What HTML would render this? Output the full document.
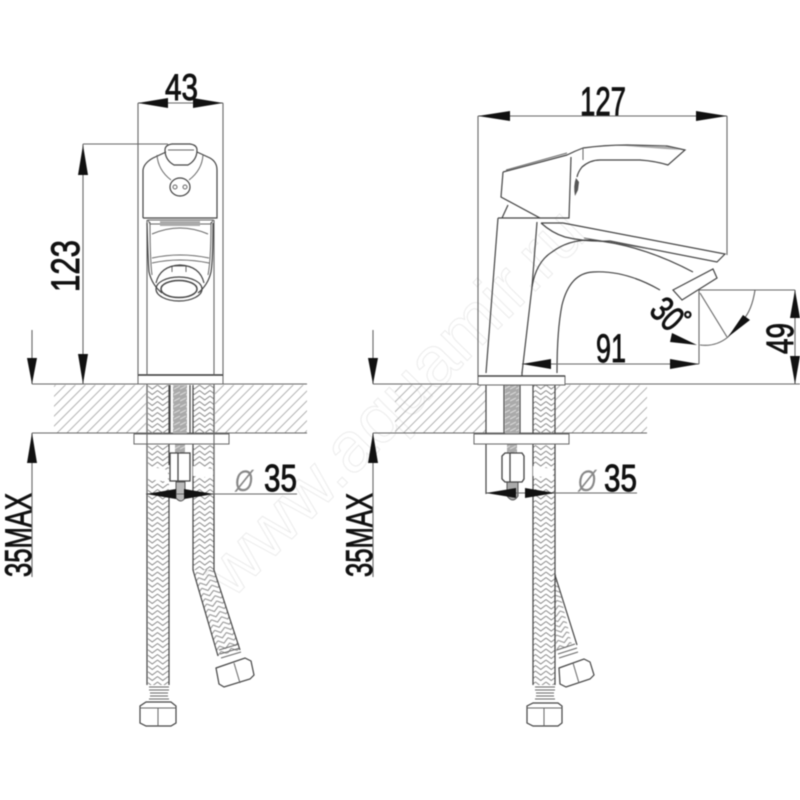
<!DOCTYPE html>
<html><head><meta charset="utf-8"><style>
html,body{margin:0;padding:0;background:#fff}
svg{display:block;filter:blur(.55px)}
text{font-family:"Liberation Sans",sans-serif;fill:#111;stroke:#111;stroke-width:.9}
.l{fill:none;stroke:#444;stroke-width:1.2}
.t{fill:none;stroke:#666;stroke-width:1}
.d{fill:none;stroke:#666;stroke-width:1.1}
.a{fill:#111;stroke:none}
</style></head><body>
<svg width="800" height="800" viewBox="0 0 800 800" xmlns="http://www.w3.org/2000/svg">
<defs>
<pattern id="h" width="7" height="45" patternUnits="userSpaceOnUse" patternTransform="rotate(45)"><path d="M3.5 0V45" stroke="#aaa" stroke-width=".9"/></pattern>
<pattern id="b" x="0" y="0" width="10.5" height="5.5" patternUnits="userSpaceOnUse"><path d="M0 0L5.25 4L10.5 0M0 5.5L5.25 9.5L10.5 5.5M0 -5.5L5.25 -1.5L10.5 -5.5" fill="none" stroke="#888" stroke-width=".9"/></pattern>
<pattern id="br" x="0" y="0" width="10.5" height="5.5" patternUnits="userSpaceOnUse" patternTransform="rotate(-17)"><path d="M0 0L5.25 4L10.5 0M0 5.5L5.25 9.5L10.5 5.5M0 -5.5L5.25 -1.5L10.5 -5.5" fill="none" stroke="#888" stroke-width=".9"/></pattern>
<pattern id="s" width="6" height="6" patternUnits="userSpaceOnUse"><rect width="6" height="6" fill="#aaa"/><path d="M0 5L6 2" stroke="#ddd" stroke-width="1"/></pattern>
</defs>
<rect width="800" height="800" fill="#fff"/>

<!-- watermark -->
<text x="0" y="0" transform="translate(232 600) rotate(-45.5)" font-size="70" textLength="510" lengthAdjust="spacingAndGlyphs" style="fill:#fff;stroke:#ececec;stroke-width:1">www.aquamir.ru</text>

<!-- table hatch -->
<rect x="54" y="385" width="92" height="48" fill="url(#h)"/>
<rect x="215" y="385" width="92" height="48" fill="url(#h)"/>
<rect x="395" y="385" width="91" height="48" fill="url(#h)"/>
<rect x="555" y="385" width="92" height="48" fill="url(#h)"/>
<path class="d" d="M32 384H307M32 433H307M373 384H800M373 433H647"/>

<!-- LEFT hoses -->
<rect x="148" y="385" width="21" height="300" fill="url(#b)"/>
<rect x="193" y="385" width="21" height="185" fill="url(#b)"/>
<path d="M193 570L214 570L240 650L218 656Z" fill="url(#br)"/>
<path class="l" d="M147 385V685M169 385V465M169 495V685M193 385V570L218 656M214 385V570L240 650"/>
<path d="M148 466l20 4v12l-20-3zM193 466l20 3v9l-20-2z" fill="#fff"/>
<path class="t" d="M149 687h20M149 690h20M150 693h18M150 696h18M149 699h20"/>
<path class="t" d="M219 650l20-6M220 654l20-6M221 658l20-6"/>
<path class="l" d="M146 702h25l5 4v17l-5 3h-25l-6-3v-17z"/>
<path class="t" d="M158 708v18M140 708h36"/>
<path class="l" d="M216 668l29-10 6 3 3 14-4 4-26 8-5-3z"/>
<path class="t" d="M234 663l6 20"/>
<!-- LEFT bolt -->
<rect x="173" y="385" width="14" height="49" fill="url(#s)"/>
<rect x="175" y="444" width="10" height="10" fill="url(#s)"/>
<path class="l" d="M170 385V433M190 385V433"/>
<path d="M176 482h9v16q-4 6-9 0z" fill="#bbb" stroke="#555"/>
<path d="M170 453h20v28h-20zM178 453v28" fill="#fff" stroke="#444" stroke-width="1.3"/>
<!-- LEFT washer + base -->
<rect x="134" y="434" width="95" height="10" fill="#fff" stroke="#666"/>
<path class="d" d="M147 384V494M214 384V494"/>
<rect x="138" y="375" width="85" height="9" fill="#fff" stroke="#666"/>
<path d="M138 375H223" stroke="#333" stroke-width="1.6"/>

<!-- LEFT front faucet -->
<path class="d" d="M138 103V375M223 103V375M147 220V375M214 220V375"/>
<path class="d" d="M83 144H168"/>
<path class="l" d="M143 218V170Q144 163 153 158L166 152M197 152L210 158Q217 162 217 170V218H143"/>
<path class="l" d="M165 150Q165 145 172 144H190Q197 145 197 150Q197 160 188 165H174Q165 160 165 150Z"/>
<path class="t" d="M168 150H194M157 155Q158 170 171 180M203 155Q202 170 189 180"/>
<ellipse class="l" cx="180" cy="187" rx="10" ry="9"/>
<circle class="t" cx="175" cy="187" r="2"/><circle class="t" cx="185" cy="187" r="2"/>
<path d="M148 220H213L211 224H150Z" fill="#fff" stroke="#666"/>
<path d="M160 221H200V226H160Z" fill="#aaa"/>
<path class="l" d="M147 223Q148 260 149 272Q152 285 162 293M213 223Q213 260 211 272Q208 285 198 293"/>
<path class="t" d="M150 222Q150 260 152 275M211 222Q211 260 208 275M152 234Q180 222 208 234M152 258Q180 252 209 258M152 263Q180 257 209 263M172 272v-6h14v6"/>
<path class="l" d="M156 283Q160 266 180 265Q200 266 204 283"/>
<ellipse cx="179" cy="289" rx="18" ry="8.5" fill="none" stroke="#444" stroke-width="1.5"/>
<ellipse class="l" cx="179" cy="289" rx="23" ry="12"/>

<!-- RIGHT hoses -->
<rect x="533" y="385" width="22" height="300" fill="url(#b)"/>
<path d="M555 570L572 645L556 652Z" fill="url(#br)"/>
<path class="l" d="M533 385V685M555 385V685M555 575L577 645"/>
<path d="M533 466l20 3v9l-20-2z" fill="#fff"/>
<path class="t" d="M535 687h20M535 690h20M536 693h18M536 696h18M535 699h20"/>
<path class="t" d="M557 650l18-6M558 654l19-6M559 658l19-6"/>
<path class="l" d="M533 703h25l4 3v17l-4 3h-25l-6-3v-17z"/>
<path class="t" d="M544 708v18M527 708h35"/>
<path class="l" d="M559 668l25-9 6 3 4 13-4 4-24 8-6-3z"/>
<path class="t" d="M573 663l6 20"/>
<!-- RIGHT bolt -->
<rect x="505" y="385" width="14" height="49" fill="url(#s)"/>
<rect x="507" y="444" width="10" height="10" fill="url(#s)"/>
<path class="l" d="M504 385V433M520 385V433M486 384V494"/>
<path d="M507 482h11v14q-5 8-11 0z" fill="#aaa" stroke="#555"/>
<path d="M502 456l3-3h17l2 3v23l-2 3h-17l-3-3zM510 453v29" fill="#fff" stroke="#444" stroke-width="1.3"/>
<rect x="474" y="434" width="95" height="10" fill="#fff" stroke="#666"/>
<rect x="478" y="376" width="87" height="9" fill="#fff" stroke="#666"/>
<path d="M478 376H565" stroke="#444" stroke-width="1.4"/>
<path class="l" d="M522 376V372"/>

<!-- RIGHT side faucet -->
<path class="d" d="M478 116V376M727 116V255"/>
<path class="l" d="M503 172L567 155Q575 151 583 148Q605 145 627 145L667 146L685 150L668 165Q655 161 640 160H600Q590 160 582 167Q578 172 577 177"/>
<path class="t" d="M506 170L567 153M583 148V160"/>
<path d="M625 146H665L680 150L665 149Z" fill="#aaa"/>
<path class="l" d="M503 172L501 197L540 218H569L571 157"/>
<path class="l" d="M508 205L502 218M498 218H540M498 218L486 373"/>
<path class="l" d="M537 222L532 287L522 373"/>
<path d="M576 178q-3 8-1 18l3-6 1-8z" fill="#555"/>
<path class="l" d="M541 223Q552 233 565 237Q585 242 610 241L717 262L725 254L563 223M541 223H563"/>
<path class="t" d="M584 238L650 249"/>
<path class="l" d="M532 287Q536 262 552 252Q568 240 590 240Q640 244 693 272"/>
<path class="l" d="M557 373Q557 330 562 305Q570 273 593 272Q625 270 660 290"/>
<path class="l" d="M673 290L713 269L717 278L682 300Z"/>

<!-- dimension lines -->
<path class="d" d="M83 144V384M32 330V384M32 433V577M373 330V384M373 433V577"/>
<path class="d" d="M138 103H223M478 116H727M522 364H699M699 290V364M699 290H795M795 290V384"/>
<path class="d" d="M146 494H297M486 493H637"/>
<path class="d" d="M755 290Q752 310 743 320L728 337Q716 347 700 345M700 293L727 337"/>

<!-- arrowheads -->
<g class="a">
<path d="M138 103L168 98V108ZM223 103L193 98V108Z"/>
<path d="M83 145L78 175H88ZM83 384L78 354H88Z"/>
<path d="M32 384L27 358H37ZM32 433L27 463H37Z"/>
<path d="M373 384L368 358H378ZM373 433L368 463H378Z"/>
<path d="M478 116L510 111V121ZM727 116L696 111V121Z"/>
<path d="M522 364L551 359V369ZM699 364L670 359V369Z"/>
<path d="M795 290L790 318H800ZM795 384L790 356H800Z"/>
<path d="M146 494L176 489V499ZM214 494L184 489V499Z"/>
<path d="M486 493L516 488V498ZM555 493L525 488V498Z"/>
<path d="M728 337L743 315L750 320Z"/>
<path d="M697 345L672 333L670 342Z"/>
</g>

<!-- labels -->
<text x="165" y="100" font-size="37" textLength="33" lengthAdjust="spacingAndGlyphs">43</text>
<text x="580" y="115" font-size="40" textLength="46" lengthAdjust="spacingAndGlyphs">127</text>
<text transform="translate(79 292) rotate(-90)" font-size="40" textLength="52" lengthAdjust="spacingAndGlyphs">123</text>
<text x="596" y="362" font-size="40" textLength="30" lengthAdjust="spacingAndGlyphs">91</text>
<text transform="translate(793 354) rotate(-90)" font-size="38" textLength="31" lengthAdjust="spacingAndGlyphs">49</text>
<text transform="translate(648 312) rotate(45)" font-size="36" textLength="30" lengthAdjust="spacingAndGlyphs">30</text>
<text x="683" y="328" font-size="24">°</text>
<text x="264" y="491" font-size="38" textLength="33" lengthAdjust="spacingAndGlyphs">35</text>
<text x="604" y="491" font-size="38" textLength="33" lengthAdjust="spacingAndGlyphs">35</text>
<text x="235" y="491" font-size="30" textLength="18" lengthAdjust="spacingAndGlyphs" style="fill:#888;stroke:none;font-style:italic">Ø</text>
<text x="578" y="491" font-size="30" textLength="18" lengthAdjust="spacingAndGlyphs" style="fill:#888;stroke:none;font-style:italic">Ø</text>
<text transform="translate(31 577) rotate(-90)" font-size="37" textLength="84" lengthAdjust="spacingAndGlyphs">35MAX</text>
<text transform="translate(372 577) rotate(-90)" font-size="37" textLength="84" lengthAdjust="spacingAndGlyphs">35MAX</text>
</svg>
</body></html>
